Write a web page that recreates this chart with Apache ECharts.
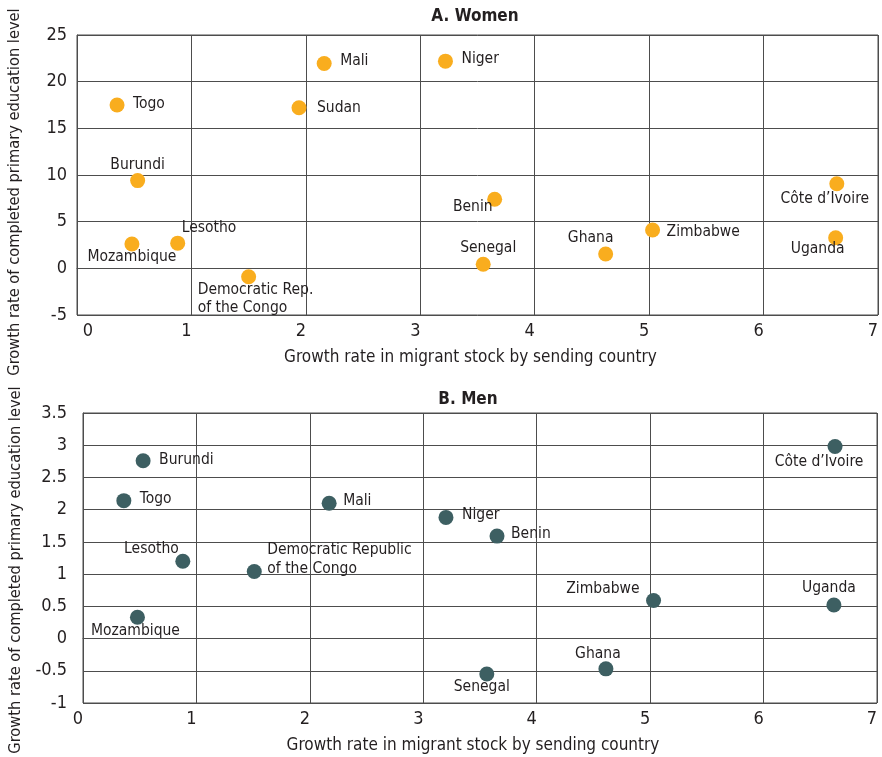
<!DOCTYPE html>
<html>
<head>
<meta charset="utf-8">
<script src="https://cdn.jsdelivr.net/npm/echarts@6/dist/echarts.min.js"></script>
<style>
  html, body { margin: 0; padding: 0; background: #fff; }
  #chart { width: 882px; height: 757px; }
</style>
</head>
<body>
<div id="chart"></div>
<script>
// Countries shown in both panels
const women_countries = ['Togo', 'Mali', 'Niger', 'Sudan', 'Burundi', 'Mozambique', 'Lesotho',
  'Democratic Rep.\nof the Congo', 'Benin', 'Senegal', 'Ghana', 'Zimbabwe', 'Côte d’Ivoire', 'Uganda'];
// Growth rate in migrant stock by sending country
const women_x = [0.35, 2.16, 3.22, 1.94, 0.53, 0.48, 0.88, 1.50, 3.65, 3.55, 4.62, 5.03, 6.64, 6.63];
// Growth rate of completed primary education level (women)
const women_y = [17.5, 21.95, 22.2, 17.2, 9.4, 2.6, 2.7, -0.9, 7.4, 0.43, 1.53, 4.1, 9.06, 3.28];

const men_countries = ['Burundi', 'Togo', 'Mali', 'Lesotho', 'Democratic Republic\nof the Congo',
  'Mozambique', 'Niger', 'Benin', 'Côte d’Ivoire', 'Zimbabwe', 'Uganda', 'Ghana', 'Senegal'];
const men_x = [0.53, 0.36, 2.17, 0.88, 1.51, 0.48, 3.20, 3.65, 6.63, 5.03, 6.62, 4.61, 3.56];
const men_y = [2.76, 2.14, 2.10, 1.20, 1.04, 0.33, 1.88, 1.59, 2.98, 0.59, 0.52, -0.47, -0.55];

const women_y_ticks = [-5, 0, 5, 10, 15, 20, 25];
const men_y_ticks = [-1, -0.5, 0, 0.5, 1, 1.5, 2, 2.5, 3, 3.5];
const x_ticks = [0, 1, 2, 3, 4, 5, 6, 7];

const xTitle = 'Growth rate in migrant stock by sending country';
const yTitle = 'Growth rate of completed primary education level';

// Label placement around each marker: [dx, dy, align]
const womenLabelLayout = {
  'Togo': [16, -1, 'left'],
  'Mali': [16, -2, 'left'],
  'Niger': [16, -2, 'left'],
  'Sudan': [18, 0, 'left'],
  'Burundi': [0, -16, 'center'],
  'Mozambique': [0, 13, 'center'],
  'Lesotho': [4, -15, 'left'],
  'Democratic Rep.\nof the Congo': [-51, 22, 'left'],
  'Benin': [-2, 8, 'right'],
  'Senegal': [5, -16, 'center'],
  'Ghana': [-15, -16, 'center'],
  'Zimbabwe': [14, 2, 'left'],
  'Côte d’Ivoire': [-12, 15, 'center'],
  'Uganda': [-18, 11, 'center']
};
const menLabelLayout = {
  'Burundi': [16, -1, 'left'],
  'Togo': [16, -2, 'left'],
  'Mali': [14, -2, 'left'],
  'Lesotho': [-4, -12, 'right'],
  'Democratic Republic\nof the Congo': [13, -12, 'left'],
  'Mozambique': [-2, 14, 'center'],
  'Niger': [16, -2, 'left'],
  'Benin': [14, -2, 'left'],
  'Côte d’Ivoire': [-16, 15, 'center'],
  'Zimbabwe': [-14, -12, 'right'],
  'Uganda': [-5, -17, 'center'],
  'Ghana': [-8, -15, 'center'],
  'Senegal': [-5, 13, 'center']
};

const FONT = "'Liberation Sans Narrow', 'DejaVu Sans Condensed', sans-serif";
const TEXT = '#231f20';
const GRID = '#4d4d4d';

function points(names, xs, ys, layout) {
  return names.map((n, i) => {
    const l = layout[n];
    return {
      name: n,
      value: [xs[i], ys[i]],
      label: { offset: [l[0], l[1]], align: l[2] }
    };
  });
}

function xAxis(gridIndex, shiftFirst) {
  return {
    type: 'value', gridIndex, min: 0, max: 7, interval: 1,
    name: xTitle, nameLocation: 'middle', nameGap: 34,
    nameTextStyle: { fontFamily: FONT, fontSize: 17, color: TEXT, padding: [0, 14, 0, 0] },
    axisLine: { show: true, lineStyle: { color: GRID, width: 1 } },
    axisTick: { show: false },
    splitLine: { show: true, lineStyle: { color: GRID, width: 1 } },
    axisLabel: {
      margin: 7, color: TEXT, fontFamily: FONT, fontSize: 18,
      formatter: v => (shiftFirst && v === 0) ? '{z|0}' : '{n|' + v + '}',
      rich: {
        z: { fontFamily: FONT, fontSize: 18, color: TEXT, padding: [0, 0, 0, 22] },
        n: { fontFamily: FONT, fontSize: 18, color: TEXT, padding: [0, 10, 0, 0] }
      }
    }
  };
}

function yAxis(gridIndex, min, max, interval, margin, gap, pad) {
  return {
    type: 'value', gridIndex, min, max, interval,
    name: yTitle, nameLocation: 'middle', nameGap: gap, nameRotate: 90,
    nameTextStyle: { fontFamily: FONT, fontSize: 16.3, color: TEXT, padding: [0, pad, 0, 0] },
    axisLine: { show: true, lineStyle: { color: GRID, width: 1 } },
    axisTick: { show: false },
    splitLine: { show: true, lineStyle: { color: GRID, width: 1 } },
    axisLabel: { margin, color: TEXT, fontFamily: FONT, fontSize: 18 }
  };
}

const chart = echarts.init(document.getElementById('chart'), null, { renderer: 'canvas' });

chart.setOption({
  backgroundColor: '#fff',
  animation: false,
  title: [
    { text: 'A. Women', left: 470, top: 3, textAlign: 'center',
      textStyle: { fontFamily: FONT, fontSize: 17, fontWeight: 'bold', color: TEXT } },
    { text: 'B. Men', left: 463, top: 386, textAlign: 'center',
      textStyle: { fontFamily: FONT, fontSize: 17, fontWeight: 'bold', color: TEXT } }
  ],
  grid: [
    { left: 77, top: 35, width: 801, height: 280, outerBoundsMode: 'none', containLabel: false,
      show: true, borderColor: GRID, borderWidth: 1, backgroundColor: 'transparent' },
    { left: 83, top: 413, width: 794, height: 290, outerBoundsMode: 'none', containLabel: false,
      show: true, borderColor: GRID, borderWidth: 1, backgroundColor: 'transparent' }
  ],
  xAxis: [xAxis(0, true), xAxis(1, false)],
  yAxis: [
    yAxis(0, women_y_ticks[0], women_y_ticks[women_y_ticks.length - 1], 5, 10, 54, 34),
    yAxis(1, men_y_ticks[0], men_y_ticks[men_y_ticks.length - 1], 0.5, 16, 59, 24)
  ],
  series: [
    {
      type: 'scatter', xAxisIndex: 0, yAxisIndex: 0,
      symbolSize: 15,
      itemStyle: { color: '#f9ad1e', opacity: 1 },
      label: { show: true, position: 'inside', formatter: p => p.name, verticalAlign: 'middle',
        fontFamily: FONT, fontSize: 15.5, color: TEXT, lineHeight: 18 },
      data: points(women_countries, women_x, women_y, womenLabelLayout)
    },
    {
      type: 'scatter', xAxisIndex: 1, yAxisIndex: 1,
      symbolSize: 15,
      itemStyle: { color: '#3d5f62', opacity: 1 },
      label: { show: true, position: 'inside', formatter: p => p.name, verticalAlign: 'middle',
        fontFamily: FONT, fontSize: 15.5, color: TEXT, lineHeight: 19 },
      data: points(men_countries, men_x, men_y, menLabelLayout)
    }
  ]
});
</script>
</body>
</html>
